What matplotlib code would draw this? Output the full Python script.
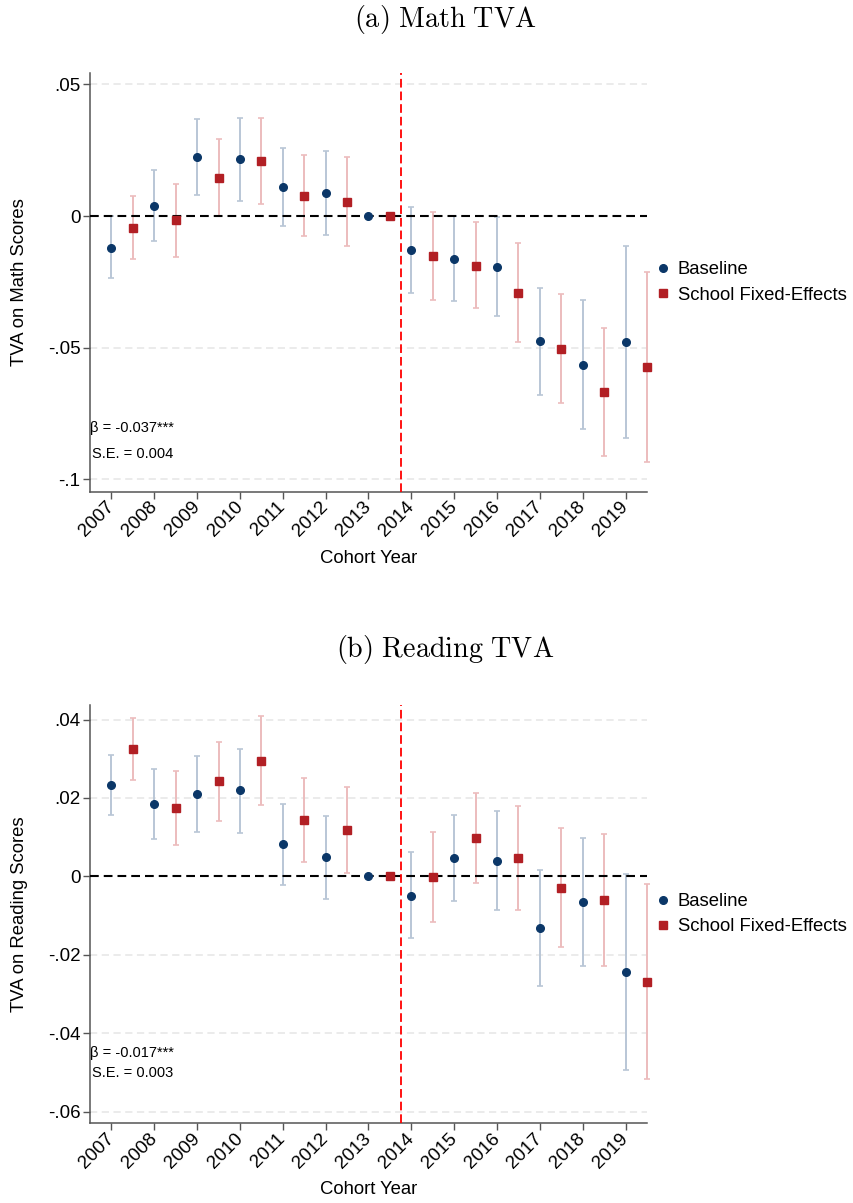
import numpy as np
import matplotlib
matplotlib.use("Agg")
import matplotlib.pyplot as plt
from matplotlib.ticker import FixedLocator, FixedFormatter

plt.rcParams["font.family"] = ["Liberation Sans", "DejaVu Sans"]
plt.rcParams["mathtext.fontset"] = "cm"

# Cohort years and event-study estimates (point, upper CI, lower CI)
years = [2007, 2008, 2009, 2010, 2011, 2012, 2013, 2014, 2015, 2016, 2017, 2018, 2019]

math_base = [-0.0120, 0.0039, 0.0225, 0.0215, 0.0109, 0.0087, 0.0, -0.0129, -0.0162, -0.0192, -0.0476, -0.0565, -0.0477]
math_base_hi = [0.0000, 0.0175, 0.0368, 0.0373, 0.0257, 0.0248, 0.0, 0.0035, 0.0000, -0.0005, -0.0273, -0.0319, -0.0113]
math_base_lo = [-0.0234, -0.0096, 0.0081, 0.0057, -0.0039, -0.0071, 0.0, -0.0292, -0.0322, -0.0379, -0.0679, -0.0809, -0.0842]

math_sfe = [-0.0044, -0.0015, 0.0144, 0.0210, 0.0076, 0.0053, 0.0, -0.0152, -0.0190, -0.0292, -0.0505, -0.0667, -0.0572]
math_sfe_hi = [0.0076, 0.0123, 0.0292, 0.0373, 0.0232, 0.0224, 0.0, 0.0017, -0.0024, -0.0103, -0.0296, -0.0427, -0.0211]
math_sfe_lo = [-0.0163, -0.0154, 0.0000, 0.0047, -0.0076, -0.0113, 0.0, -0.0318, -0.0351, -0.0480, -0.0711, -0.0911, -0.0934]

read_base = [0.0234, 0.0184, 0.0210, 0.0219, 0.0082, 0.0049, 0.0, -0.0049, 0.0047, 0.0040, -0.0132, -0.0065, -0.0245]
read_base_hi = [0.0310, 0.0274, 0.0308, 0.0326, 0.0185, 0.0155, 0.0, 0.0061, 0.0157, 0.0167, 0.0016, 0.0099, 0.0006]
read_base_lo = [0.0157, 0.0094, 0.0112, 0.0111, -0.0021, -0.0058, 0.0, -0.0157, -0.0064, -0.0087, -0.0280, -0.0228, -0.0495]

read_sfe = [0.0325, 0.0174, 0.0243, 0.0294, 0.0144, 0.0118, 0.0, -0.0002, 0.0099, 0.0047, -0.0029, -0.0060, -0.0269]
read_sfe_hi = [0.0405, 0.0268, 0.0343, 0.0409, 0.0252, 0.0228, 0.0, 0.0112, 0.0213, 0.0179, 0.0123, 0.0109, -0.0019]
read_sfe_lo = [0.0246, 0.0081, 0.0142, 0.0182, 0.0037, 0.0009, 0.0, -0.0116, -0.0016, -0.0085, -0.0181, -0.0230, -0.0518]

math_yticks = [0.05, 0.0, -0.05, -0.1]
math_yticklabels = [".05", "0", "-.05", "-.1"]
read_yticks = [0.04, 0.02, 0.0, -0.02, -0.04, -0.06]
read_yticklabels = [".04", ".02", "0", "-.02", "-.04", "-.06"]

series_labels = ["Baseline", "School Fixed-Effects"]
sfe_offset = 0.5
event_year = 2013.75

NAVY = "#0b3768"
RED = "#b21f24"
NAVY_CI = "#b9c6d6"
RED_CI = "#ecbcbd"
SPINE = "#555555"

W, H = 854, 1203
fig = plt.figure(figsize=(W / 100, H / 100), dpi=100)


def panel(rect, title, ylabel, base, base_hi, base_lo, sfe, sfe_hi, sfe_lo,
          yticks, yticklabels, ylim, beta, se, title_y):
    ax = fig.add_axes(rect)
    x = np.array(years, dtype=float)
    xs = x + sfe_offset

    for yv in yticks:
        if yv != 0:
            ax.axhline(yv, color="#e9e9e9", lw=1.3, ls=(0, (4, 2.5)), zorder=0)

    # confidence intervals
    ax.errorbar(x, base, yerr=[np.array(base) - np.array(base_lo), np.array(base_hi) - np.array(base)],
                fmt="none", ecolor=NAVY_CI, elinewidth=1.4, capsize=2.4, capthick=1.2, zorder=2)
    ax.errorbar(xs, sfe, yerr=[np.array(sfe) - np.array(sfe_lo), np.array(sfe_hi) - np.array(sfe)],
                fmt="none", ecolor=RED_CI, elinewidth=1.4, capsize=2.4, capthick=1.2, zorder=2,
                clip_on=False)

    ax.axhline(0, color="black", lw=1.5, ls=(0, (4.2, 2.4)), zorder=3)
    ax.axvline(event_year, color="#ff0000", lw=1.3, ls=(0, (4.8, 2.2)), zorder=3)

    ax.plot(x, base, "o", color=NAVY, ms=5.5, mec=NAVY, zorder=4, label=series_labels[0])
    ax.plot(xs, sfe, "s", color=RED, ms=5.6, mec=RED, zorder=4, label=series_labels[1],
            clip_on=False)

    ax.set_xlim(2006.5, 2019.5)
    ax.set_ylim(*ylim)
    ax.xaxis.set_major_locator(FixedLocator(years))
    ax.xaxis.set_major_formatter(FixedFormatter([str(y) for y in years]))
    ax.yaxis.set_major_locator(FixedLocator(yticks))
    ax.yaxis.set_major_formatter(FixedFormatter(yticklabels))

    for s in ["top", "right"]:
        ax.spines[s].set_visible(False)
    for s in ["left", "bottom"]:
        ax.spines[s].set_color(SPINE)
        ax.spines[s].set_linewidth(1.1)
    ax.tick_params(axis="both", colors=SPINE, labelcolor="black", length=5, width=1.0,
                   labelsize=13.5, pad=2)
    for lab in ax.get_xticklabels():
        lab.set_rotation(45)
        lab.set_ha("right")
        lab.set_va("center")
        lab.set_rotation_mode("anchor")
    ax.tick_params(axis="x", pad=4)

    ax.set_ylabel(ylabel, fontsize=13.3, va="center")
    ax.yaxis.set_label_coords(-0.1257, 0.5)
    ax.set_xlabel("Cohort Year", fontsize=13.3, va="center")
    ax.xaxis.set_label_coords(0.5, -0.158)

    ax.text(0.0, beta[1], beta[0], transform=ax.transAxes, fontsize=10.5,
            ha="left", va="center")
    ax.text(0.004, se[1], se[0], transform=ax.transAxes, fontsize=10.5,
            ha="left", va="center")

    ax.legend(loc="center left", bbox_to_anchor=(1.012, 0.5), frameon=False,
              fontsize=13.3, handlelength=1.0, handletextpad=0.3, borderpad=0,
              borderaxespad=0, labelspacing=0.45)

    fig.text(445 / W, 1 - title_y / H, title, ha="center", va="center", fontsize=20.3)
    return ax


panel([90 / W, 1 - 492 / H, 557 / W, 419 / H], r"$\mathrm{(a)\ Math\ TVA}$",
      "TVA on Math Scores", math_base, math_base_hi, math_base_lo,
      math_sfe, math_sfe_hi, math_sfe_lo, math_yticks, math_yticklabels,
      (-0.1048, 0.0543), ("β = -0.037***", 0.1535), ("S.E. = 0.004", 0.0907), 20)

panel([90 / W, 1 - 1123.3 / H, 557 / W, 418.3 / H], r"$\mathrm{(b)\ Reading\ TVA}$",
      "TVA on Reading Scores", read_base, read_base_hi, read_base_lo,
      read_sfe, read_sfe_hi, read_sfe_lo, read_yticks, read_yticklabels,
      (-0.0630, 0.0437), ("β = -0.017***", 0.1688), ("S.E. = 0.003", 0.121), 650)

fig.savefig("out.png", dpi=100, facecolor="white")
